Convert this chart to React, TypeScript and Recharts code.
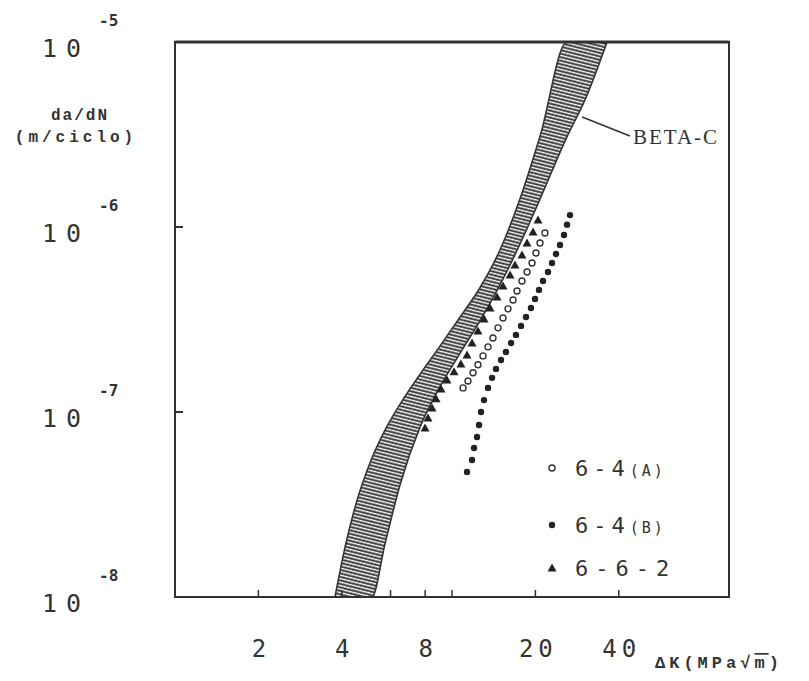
import React from "react";
import {
  ComposedChart,
  Area,
  Scatter,
  XAxis,
  YAxis,
  ReferenceArea,
  ReferenceLine,
  ReferenceDot,
  Legend,
} from "recharts";

// BETA-C scatter band (upper = left edge, lower = right edge)
const bandK = [3.78, 4.11, 4.47, 5.14, 5.73, 6.49, 7.67, 9.05, 10.7, 12.6, 14.9, 17.6, 20.8, 26.0, 30.2, 36.3];
const bandUpper = [1e-8, 1.86e-8, 3.07e-8, 5.64e-8, 7.99e-8, 1.1e-7, 1.6e-7, 2.27e-7, 3.26e-7, 4.68e-7, 7.51e-7, 1.42e-6, 3.1e-6, 1e-5, 1e-5, 1e-5];
const bandLower = [1e-8, 1e-8, 1e-8, 1e-8, 1.94e-8, 4.03e-8, 8.29e-8, 1.37e-7, 2.08e-7, 3.1e-7, 4.86e-7, 8.09e-7, 1.42e-6, 3.07e-6, 4.86e-6, 1e-5];

// 6-4(A), open circles
const kA = [10.96, 11.42, 11.91, 12.41, 12.94, 13.49, 14.06, 14.66, 15.28, 15.93, 16.61, 17.17, 17.89, 18.66, 19.45, 20.1, 20.78, 21.66];
const rateA = [1.35e-7, 1.47e-7, 1.63e-7, 1.8e-7, 2.01e-7, 2.25e-7, 2.51e-7, 2.85e-7, 3.22e-7, 3.61e-7, 4.03e-7, 4.51e-7, 5.11e-7, 5.71e-7, 6.39e-7, 7.24e-7, 8.2e-7, 9.28e-7];

// 6-4(B), filled circles
const kB = [11.33, 11.81, 12.01, 12.31, 12.52, 12.73, 13.05, 13.49, 13.95, 14.42, 15.03, 15.66, 16.33, 17.02, 17.75, 18.5, 19.28, 19.94, 20.61, 21.31, 22.21, 22.96, 23.74, 24.54, 25.37, 26.02, 26.67];
const rateB = [4.74e-8, 5.5e-8, 6.39e-8, 7.33e-8, 8.51e-8, 1.0e-7, 1.16e-7, 1.35e-7, 1.53e-7, 1.71e-7, 1.91e-7, 2.11e-7, 2.36e-7, 2.61e-7, 2.92e-7, 3.26e-7, 3.65e-7, 4.08e-7, 4.57e-7, 5.11e-7, 5.71e-7, 6.39e-7, 7.15e-7, 7.99e-7, 9.06e-7, 1.03e-6, 1.16e-6];

// 6-6-2, triangles
const kC = [7.99, 8.19, 8.47, 8.76, 9.13, 9.59, 10.17, 10.77, 11.33, 11.81, 12.41, 13.05, 13.72, 14.54, 15.28, 16.2, 16.88, 17.89, 18.66, 19.61, 20.44];
const rateC = [8.19e-8, 9.28e-8, 1.05e-7, 1.18e-7, 1.33e-7, 1.49e-7, 1.65e-7, 1.82e-7, 2.03e-7, 2.36e-7, 2.74e-7, 3.18e-7, 3.65e-7, 4.18e-7, 4.8e-7, 5.5e-7, 6.23e-7, 7.06e-7, 8.2e-7, 9.4e-7, 1.09e-6];

const xTicks = [2, 4, 6, 8, 10, 20, 40];
const xLabels = [2, 4, 8, 20, 40];
const yTicks = [1e-8, 1e-7, 1e-6, 1e-5];

// BETA-C pointer: from band edge to label
const betaArrow = [
  { k: 29.5, v: 3.93e-6 },
  { k: 43.9, v: 3.1e-6 },
];

const ink = "#333";
const mono = "'DejaVu Sans Mono', monospace";

const bandData = bandK.map((k, i) => ({ k, band: [bandLower[i], bandUpper[i]] }));
const pts = (ks: number[], vs: number[]) => ks.map((k, i) => ({ k, v: vs[i] }));

const openDot = (p: any) => (
  <circle cx={p.cx} cy={p.cy} r={3} fill="#fff" stroke={ink} strokeWidth={1.4} />
);
const fullDot = (p: any) => <circle cx={p.cx} cy={p.cy} r={3.2} fill="#222" />;
const tri = (p: any) => (
  <polygon
    points={`${p.cx},${p.cy - 4.5} ${p.cx + 4.5},${p.cy + 3.5} ${p.cx - 4.5},${p.cy + 3.5}`}
    fill="#222"
  />
);

function XTick({ x, y, payload }: any) {
  const show = xLabels.includes(payload.value);
  return (
    <g>
      <line x1={x} x2={x} y1={y} y2={y - 7} stroke={ink} strokeWidth={1.5} />
      {show && (
        <text x={x + 3} y={y + 60} textAnchor="middle" fontFamily={mono} fontSize={24} letterSpacing={5} fill={ink}>
          {payload.value}
        </text>
      )}
    </g>
  );
}

function YTick({ x, y, payload }: any) {
  const exp = Math.round(Math.log10(payload.value));
  const inner = payload.value > 1e-8 && payload.value < 1e-5;
  return (
    <g>
      {inner && <line x1={x} x2={x + 8} y1={y} y2={y} stroke={ink} strokeWidth={2} />}
      <text x={42} y={y + 15} fontFamily={mono} fontSize={25} letterSpacing={9} fill={ink}>
        10
      </text>
      <text x={99} y={y - 16} fontFamily={mono} fontSize={16} fontWeight="bold" fill={ink}>
        {exp}
      </text>
    </g>
  );
}

function LegendBox() {
  const rows = [
    { y: 18, name: "6-4", sub: "(A)", m: "open" },
    { y: 75, name: "6-4", sub: "(B)", m: "full" },
    { y: 118, name: "6-6-2", sub: "", m: "tri" },
  ];
  return (
    <svg width={180} height={140}>
      {rows.map((r) => (
        <g key={r.y}>
          {r.m === "open" && <circle cx={12} cy={r.y} r={3} fill="#fff" stroke={ink} strokeWidth={1.4} />}
          {r.m === "full" && <circle cx={12} cy={r.y} r={3.2} fill="#222" />}
          {r.m === "tri" && (
            <polygon points={`12,${r.y - 4.5} 16.5,${r.y + 3.5} 7.5,${r.y + 3.5}`} fill="#222" />
          )}
          <text x={35} y={r.y + 8} fontFamily={mono} fontSize={22} letterSpacing={r.sub ? 5 : 7} fill={ink}>
            {r.name}
            {r.sub && (
              <tspan fontSize={15} letterSpacing={3}>
                {r.sub}
              </tspan>
            )}
          </text>
        </g>
      ))}
    </svg>
  );
}

export default function App() {
  return (
    <div style={{ position: "absolute", left: 0, top: 0, width: 809, height: 681, background: "#fff" }}>
      <ComposedChart width={809} height={681} data={bandData} margin={{ top: 42, right: 80, bottom: 0, left: 0 }}>
        <defs>
          <pattern id="hatch" width="4" height="3.4" patternUnits="userSpaceOnUse" patternTransform="rotate(14)">
            <rect width="4" height="3.4" fill="#fff" />
            <line x1="0" y1="1.4" x2="4" y2="1.4" stroke="#3a3a3a" strokeWidth="2" />
          </pattern>
        </defs>
        <XAxis
          dataKey="k"
          type="number"
          scale="log"
          domain={[1, 100]}
          allowDataOverflow
          ticks={xTicks}
          interval={0}
          height={84}
          tickSize={0}
          tickMargin={0}
          axisLine={false}
          tick={<XTick />}
          label={{
            content: () => (
              <text x={655} y={668} fontFamily="'Liberation Mono', monospace" fontWeight="bold" fontSize={17} letterSpacing={4} fill={ink}>
                ΔK(MPa√<tspan textDecoration="overline">m</tspan>)
              </text>
            ),
          }}
        />
        <YAxis
          dataKey="v"
          type="number"
          scale="log"
          domain={[1e-8, 1e-5]}
          allowDataOverflow
          ticks={yTicks}
          interval={0}
          width={175}
          tickSize={0}
          tickMargin={0}
          axisLine={false}
          tick={<YTick />}
          label={{
            content: () => (
              <g fontFamily="'Liberation Mono', monospace" fontWeight="bold" fontSize={16} fill={ink}>
                <text x={80} y={120} textAnchor="middle" letterSpacing={2}>
                  da/dN
                </text>
                <text x={76} y={142} textAnchor="middle" letterSpacing={4}>
                  (m/ciclo)
                </text>
              </g>
            ),
          }}
        />
        <Area
          dataKey="band"
          type="monotoneX"
          fill="url(#hatch)"
          fillOpacity={1}
          stroke={ink}
          strokeWidth={1.6}
          isAnimationActive={false}
          legendType="none"
        />
        <Scatter name="6-4(A)" data={pts(kA, rateA)} shape={openDot} isAnimationActive={false} />
        <Scatter name="6-4(B)" data={pts(kB, rateB)} shape={fullDot} isAnimationActive={false} />
        <Scatter name="6-6-2" data={pts(kC, rateC)} shape={tri} isAnimationActive={false} />
        <ReferenceArea x1={1} x2={100} y1={1e-8} y2={1e-5} fill="none" stroke={ink} strokeWidth={2} />
        <ReferenceLine y={1e-5} stroke={ink} strokeWidth={3} />
        <ReferenceLine
          segment={[
            { x: betaArrow[0].k, y: betaArrow[0].v },
            { x: betaArrow[1].k, y: betaArrow[1].v },
          ]}
          stroke={ink}
          strokeWidth={1.6}
        />
        <ReferenceDot
          x={betaArrow[1].k}
          y={betaArrow[1].v}
          r={0}
          fill="none"
          stroke="none"
          label={{
            content: (p: any) => (
              <text
                x={p.viewBox.x + 3}
                y={p.viewBox.y + 8}
                fontFamily="'Liberation Serif', serif"
                fontSize={21}
                letterSpacing={2}
                fill={ink}
              >
                BETA-C
              </text>
            ),
          }}
        />
        <Legend
          layout="vertical"
          align="center"
          verticalAlign="middle"
          wrapperStyle={{ position: "absolute", left: 540, top: 450, width: 180, height: 140 }}
          content={() => <LegendBox />}
        />
      </ComposedChart>
    </div>
  );
}
